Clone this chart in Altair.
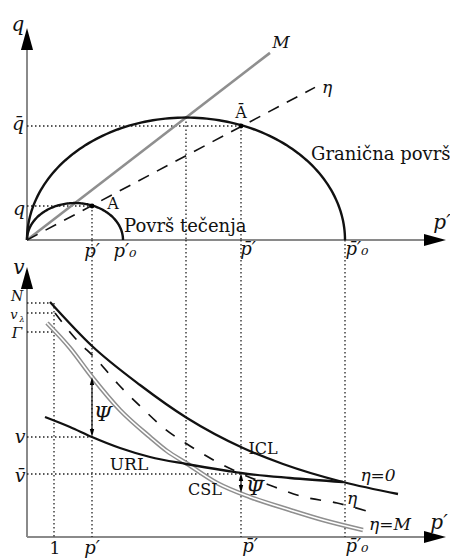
import altair as alt
import numpy as np
import pandas as pd

# ---------------- values ----------------
# p' and q / v are in one arbitrary unit (origin at the axes' corner)
M_SLOPE = 0.77          # slope of the CSL line M in the q-p' plane
ETA_SLOPE = 0.53        # slope of the stress-ratio line eta
P0_SMALL = 96           # p'_0 of the yield surface
P0_LARGE = 318          # p-bar'_0 of the bounding surface
A_P, A_Q = 65, 34       # point A
AB_P, AB_Q = 214, 114   # point A-bar
M_END = 243
ETA_END = 288
Q_AXIS_TOP = 212
P_AXIS_END = 419
V_AXIS_TOP = 270
V_PANEL_TOP = 297
PEAK_P = 159            # p' where M meets the bounding surface

# v levels
N_LEV, VL_LEV, G_LEV, VA_LEV, VB_LEV = 234, 224, 205, 100, 63
P_ONE = 27
V_CROSS = 74            # URL / CSL crossing

icl_p = [23, 65, 113, 160, 216, 256, 316, 371]
icl_v = [235, 191, 152, 119, 89, 73, 55, 43]
url_p = [18, 43, 65, 93, 123, 159, 201, 214, 263, 316]
url_v = [120, 110, 100, 89, 80, 73, 66, 64, 59, 55]
eta_p = [28, 48, 70, 91, 113, 138, 163, 190, 245, 277, 310, 343]
eta_v = [224, 199, 177, 153, 131, 108, 91, 75, 51, 40, 34, 25]
csl_p = [20, 43, 65, 93, 123, 140, 159, 190, 223, 263, 296, 336]
csl_v = [214, 189, 160, 127, 100, 86, 74, 54, 40, 27, 17, 7]

PSI_P, PSI_LO, PSI_HI = 65, 100, 160
PSIB_P, PSIB_LO, PSIB_HI = 214, 44, 64

# ---------------- scales ----------------
W, H = 442, 551
xs = alt.Scale(domain=[-19, 423], nice=False, zero=False)
qs = alt.Scale(domain=[-319, 232], nice=False, zero=False)
vs = alt.Scale(domain=[-22, 529], nice=False, zero=False)

SERIF = "DejaVu Serif"
UP = "M0,0L0.55,2L-0.55,2Z"
DOWN = "M0,0L0.55,-2L-0.55,-2Z"
RIGHT = "M0,0L-2,0.55L-2,-0.55Z"


def seg_layer(rows, ys, **mk):
    df = pd.DataFrame(rows, columns=["x", "y", "x2", "y2"])
    return alt.Chart(df).mark_rule(**mk).encode(
        x=alt.X("x:Q", scale=xs, axis=None),
        y=alt.Y("y:Q", scale=ys, axis=None),
        x2="x2:Q", y2="y2:Q")


def pts_layer(rows, ys, shape, size, color="black"):
    df = pd.DataFrame(rows, columns=["x", "y"])
    return alt.Chart(df).mark_point(shape=shape, size=size, filled=True,
                                    color=color, opacity=1, strokeWidth=0).encode(
        x=alt.X("x:Q", scale=xs, axis=None),
        y=alt.Y("y:Q", scale=ys, axis=None))


def line_layer(px, py, ys, interp="monotone", **mk):
    df = pd.DataFrame({"x": px, "y": py, "o": range(len(px))})
    return alt.Chart(df).mark_line(interpolate=interp, **mk).encode(
        x=alt.X("x:Q", scale=xs, axis=None),
        y=alt.Y("y:Q", scale=ys, axis=None),
        order="o:Q")


def text_layer(rows, ys, italic, align="center"):
    df = pd.DataFrame(rows, columns=["t", "x", "y", "s"])
    return alt.Chart(df).mark_text(font=SERIF, fontStyle="italic" if italic else "normal",
                                   align=align, baseline="middle", color="#111").encode(
        x=alt.X("x:Q", scale=xs, axis=None),
        y=alt.Y("y:Q", scale=ys, axis=None),
        text="t:N",
        size=alt.Size("s:Q", scale=None, legend=None))


# ---------------- top panel: q - p' ----------------
def mcc(p0, n=121):
    t = np.linspace(0, np.pi, n)
    p = p0 * (1 - np.cos(t)) / 2
    q = M_SLOPE * np.sqrt(np.clip(p * (p0 - p), 0, None))
    return p, q

ps, qsm = mcc(P0_SMALL)
pl, qlg = mcc(P0_LARGE)

top = alt.layer(
    seg_layer([(0, 0, 0, Q_AXIS_TOP - 12), (0, 0, P_AXIS_END - 12, 0)], qs,
              color="#8a8a8a", strokeWidth=2),
    seg_layer([(0, A_Q, A_P, A_Q), (0, AB_Q, AB_P, AB_Q),
               (A_P, A_Q, A_P, 0), (PEAK_P, M_SLOPE * PEAK_P, PEAK_P, 0),
               (AB_P, AB_Q, AB_P, 0)], qs,
              color="#222", strokeWidth=1.3, strokeDash=[1.5, 2.5]),
    line_layer([0, M_END], [0, M_SLOPE * M_END], qs, interp="linear",
               color="#8f8f8f", strokeWidth=2.6),
    line_layer([0, ETA_END], [0, ETA_SLOPE * ETA_END], qs, interp="linear",
               color="#111", strokeWidth=1.6, strokeDash=[12, 9]),
    line_layer(list(ps), list(qsm), qs, interp="linear", color="#111", strokeWidth=2.4),
    line_layer(list(pl), list(qlg), qs, interp="linear", color="#111", strokeWidth=2.4),
    pts_layer([(A_P, A_Q), (AB_P, AB_Q)], qs, "circle", 24),
    pts_layer([(0, Q_AXIS_TOP)], qs, UP, 484),
    pts_layer([(P_AXIS_END, 0)], qs, RIGHT, 484),
    text_layer([("q", -9, 215, 20), ("q\u0304", -9, 116, 19), ("q", -8, 31, 19),
                ("p\u2032", 415, 17, 20), ("M", 254, 197, 17), ("\u03b7", 300, 152, 17),
                ("p\u2032", 65, -12, 18), ("p\u2032\u2080", 98, -12, 18),
                ("p\u0304\u2032", 221, -10, 18), ("p\u0304\u2032\u2080", 330, -10, 18)],
               qs, True),
    text_layer([("A", 86, 36, 16), ("\u0100", 214, 127, 16)], qs, False),
    text_layer([("Površ tečenja", 97, 13, 18), ("Granična površ", 284, 85, 18)],
               qs, False, align="left"),
)

# ---------------- bottom panel: v - p' ----------------
bottom = alt.layer(
    seg_layer([(0, 0, 0, V_AXIS_TOP - 12), (0, 0, P_AXIS_END - 12, 0)], vs,
              color="#8a8a8a", strokeWidth=2),
    seg_layer([(0, N_LEV, 23, N_LEV), (0, VL_LEV, P_ONE, VL_LEV), (0, G_LEV, P_ONE, G_LEV),
               (0, VA_LEV, A_P, VA_LEV), (0, VB_LEV, AB_P, VB_LEV),
               (P_ONE, N_LEV, P_ONE, 0), (A_P, V_PANEL_TOP, A_P, 0),
               (PEAK_P, V_PANEL_TOP, PEAK_P, V_CROSS), (AB_P, V_PANEL_TOP, AB_P, 0),
               (P0_LARGE, V_PANEL_TOP, P0_LARGE, 0)], vs,
              color="#222", strokeWidth=1.3, strokeDash=[1.5, 2.5]),
    line_layer(csl_p, csl_v, vs, color="#8f8f8f", strokeWidth=4.6),
    line_layer(csl_p, csl_v, vs, color="white", strokeWidth=1.6),
    line_layer(eta_p, eta_v, vs, color="#111", strokeWidth=1.7, strokeDash=[11, 12]),
    line_layer(icl_p, icl_v, vs, color="#111", strokeWidth=2.3),
    line_layer(url_p, url_v, vs, color="#111", strokeWidth=2.3),
    seg_layer([(PSI_P, PSI_LO + 6, PSI_P, PSI_HI - 6), (PSIB_P, PSIB_LO + 5, PSIB_P, PSIB_HI - 5)],
              vs, color="#111", strokeWidth=1.2),
    pts_layer([(PSI_P, PSI_HI), (PSIB_P, PSIB_HI)], vs, UP, 64),
    pts_layer([(PSI_P, PSI_LO), (PSIB_P, PSIB_LO)], vs, DOWN, 64),
    pts_layer([(0, V_AXIS_TOP)], vs, UP, 484),
    pts_layer([(P_AXIS_END, 0)], vs, RIGHT, 484),
    text_layer([("v", -8, 269, 20), ("N", -10, 240, 14), ("v", -13, 222, 13),
                ("\u03bb", -5, 217, 8), ("\u0393", -10, 204, 15),
                ("v", -7, 100, 19), ("v\u0304", -7, 61, 19),
                ("p\u2032", 65, -12, 18), ("p\u0304\u2032", 223, -10, 18),
                ("p\u0304\u2032\u2080", 330, -10, 18), ("p\u2032", 412, 14, 20),
                ("\u03a8", 76, 122, 21), ("\u03a8\u0304", 228, 48, 21),
                ("\u03b7=0", 351, 61, 17), ("\u03b7", 325, 38, 17), ("\u03b7=M", 363, 12, 17)],
               vs, True),
    text_layer([("1", 28, -12, 17), ("ICL", 236, 88, 16), ("URL", 102, 72, 17),
                ("CSL", 178, 47, 16)], vs, False),
)

chart = alt.layer(top, bottom).resolve_scale(y="independent").properties(
    width=W, height=H, padding=0,
    autosize=alt.AutoSizeParams(type="none"),
).configure_view(stroke=None)

chart.save("out.html", embed_options={"renderer": "svg", "actions": False})
